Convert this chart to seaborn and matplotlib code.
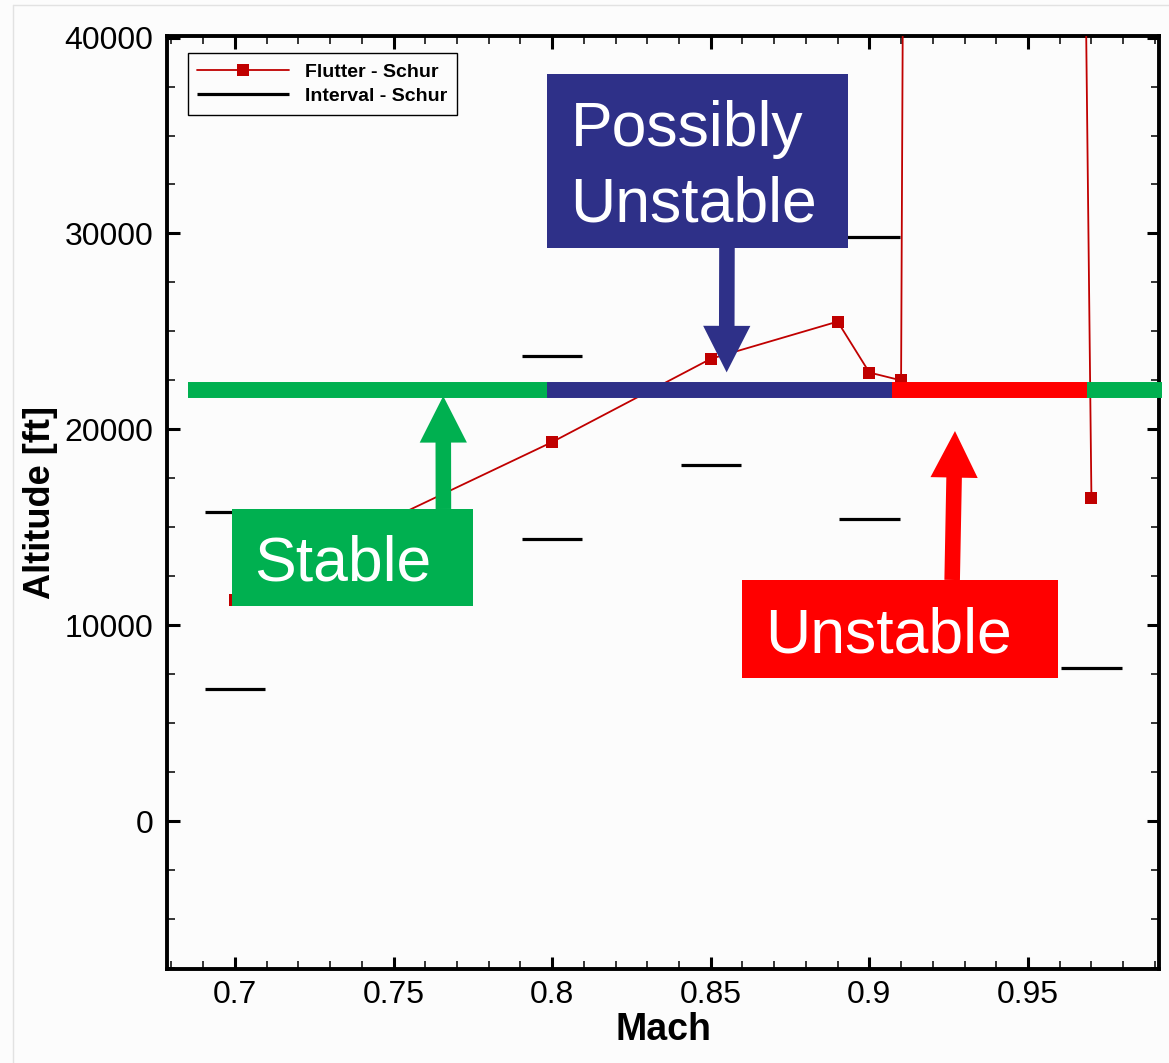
import numpy as np
import pandas as pd
import matplotlib
matplotlib.use("Agg")
import matplotlib.pyplot as plt
import seaborn as sns
from matplotlib.patches import Rectangle, FancyArrowPatch, ArrowStyle
from matplotlib.lines import Line2D
from matplotlib.ticker import MultipleLocator, FixedLocator, FixedFormatter

# ---------------- data ----------------
flutter_mach = [0.70, 0.75, 0.80, 0.85, 0.89, 0.90, 0.91, 0.92, 0.96, 0.97]
flutter_alt = [11300, 15500, 19350, 23600, 25500, 22900, 22500, 370000, 160000, 16500]

interval_mach = [0.70, 0.70, 0.80, 0.80, 0.85, 0.90, 0.90, 0.97]
interval_alt = [15800, 6750, 23750, 14400, 18200, 29800, 15400, 7800]
interval_halfwidth = 0.0095

band_alt = 22000
band_start = [0.6853, 0.7985, 0.9070, 0.9685]
band_end = [0.7985, 0.9070, 0.9685, 0.9922]

x_ticks = [0.70, 0.75, 0.80, 0.85, 0.90, 0.95]
x_tick_labels = ["0.7", "0.75", "0.8", "0.85", "0.9", "0.95"]
y_ticks = [0, 10000, 20000, 30000, 40000]
y_tick_labels = ["0", "10000", "20000", "30000", "40000"]

GREEN = "#00B050"
NAVY = "#2E3088"
RED = "#FF0000"
DARKRED = "#C00000"
BG = "#FCFCFC"

# ---------------- style ----------------
sns.set_style("ticks")
plt.rcParams["font.family"] = ["Liberation Sans", "DejaVu Sans"]
plt.rcParams["text.color"] = "black"
plt.rcParams["axes.labelcolor"] = "black"
plt.rcParams["xtick.color"] = "black"
plt.rcParams["ytick.color"] = "black"

fig = plt.figure(figsize=(11.69, 10.63), dpi=100, facecolor=BG)
W, H = 1169, 1063
ax = fig.add_axes([167 / W, 1 - 969 / H, (1159 - 167) / W, (969 - 36) / H])
ax.set_facecolor(BG)

# flutter line
df = pd.DataFrame({"Mach": flutter_mach, "Altitude": flutter_alt})
sns.lineplot(data=df, x="Mach", y="Altitude", ax=ax, sort=False, estimator=None,
             color=DARKRED, linewidth=1.3, marker="s", markersize=9,
             markeredgewidth=0, label="Flutter - Schur", zorder=3)

# interval segments
im = np.array(interval_mach)
ax.hlines(interval_alt, im - interval_halfwidth, im + interval_halfwidth,
          colors="black", linewidth=2.3, label="Interval - Schur", zorder=3)

# stability band
ax.hlines([band_alt] * 4, band_start, band_end,
          colors=[GREEN, NAVY, RED, GREEN], linewidth=11.5, zorder=4,
          clip_on=False, capstyle="butt")

ax.set_xlim(0.6786, 0.9913)
ax.set_ylim(-7550, 40080)

# ticks
ax.xaxis.set_major_locator(FixedLocator(x_ticks))
ax.xaxis.set_major_formatter(FixedFormatter(x_tick_labels))
ax.xaxis.set_minor_locator(MultipleLocator(0.01))
ax.yaxis.set_major_locator(FixedLocator(y_ticks))
ax.yaxis.set_major_formatter(FixedFormatter(y_tick_labels))
ax.yaxis.set_minor_locator(MultipleLocator(2500))
ax.tick_params(which="both", direction="in", top=True, right=True, colors="black")
ax.tick_params(which="major", length=9, width=2.2, labelsize=23)
ax.tick_params(which="minor", length=6, width=1.1)
ax.tick_params(axis="x", which="major", pad=8)
ax.tick_params(axis="y", which="major", pad=10)
for s in ax.spines.values():
    s.set_linewidth(2.8)
    s.set_color("black")

ax.set_xlabel("Mach", fontsize=27, fontweight="bold", labelpad=1)
ax.set_ylabel("Altitude [ft]", fontsize=26, fontweight="bold", labelpad=4.5)

# legend
handles, labels = ax.get_legend_handles_labels()
leg = ax.legend(handles, labels, loc="upper left",
                bbox_to_anchor=(187.7 / W, 1 - 53.3 / H),
                bbox_transform=fig.transFigure, borderaxespad=0,
                prop={"weight": "bold", "size": 14}, frameon=True,
                fancybox=False, edgecolor="black", framealpha=1,
                handlelength=4.7, handletextpad=0.83, labelspacing=0.35,
                borderpad=0.5)
leg.get_frame().set_linewidth(1.0)
leg.get_frame().set_facecolor(BG)
leg.set_zorder(7)

# annotation boxes (data coordinates)
boxes = [
    (0.79827, 29265, 0.89335 - 0.79827, 38163 - 29265, NAVY),
    (0.69896, 11000, 0.77494 - 0.69896, 15934 - 11000, GREEN),
    (0.85974, 7327, 0.95955 - 0.85974, 12311 - 7327, RED),
]
for x0, y0, w, h, c in boxes:
    ax.add_patch(Rectangle((x0, y0), w, h, facecolor=c, edgecolor="none",
                           zorder=5, clip_on=False))

texts = [
    (0.80583, 34454, "Possibly"),
    (0.80583, 30592, "Unstable"),
    (0.70599, 12276, "Stable"),
    (0.86709, 8622, "Unstable"),
]
for x, y, s in texts:
    ax.text(x, y, s, color="white", fontsize=45, ha="left", va="baseline",
            zorder=6)

arrows = [
    ((0.85511, 29265), (0.85501, 22908), NAVY),
    ((0.76573, 15934), (0.76567, 21699), GREEN),
    ((0.92610, 12311), (0.92699, 19913), RED),
]
for a, b, c in arrows:
    ax.add_patch(FancyArrowPatch(a, b, arrowstyle=ArrowStyle.Simple(
        head_length=33.5, head_width=34, tail_width=11.2), mutation_scale=1,
        color=c, linewidth=0, shrinkA=0, shrinkB=0, zorder=5, clip_on=False))

# faint slide frame
fig.add_artist(Line2D([13 / W, 13 / W], [0, 1 - 5 / H], color="#E2E2E2",
                      linewidth=1, transform=fig.transFigure))
fig.add_artist(Line2D([13 / W, 1], [1 - 5 / H, 1 - 5 / H], color="#E2E2E2",
                      linewidth=1, transform=fig.transFigure))

fig.savefig("out.png", dpi=100, facecolor=BG)
